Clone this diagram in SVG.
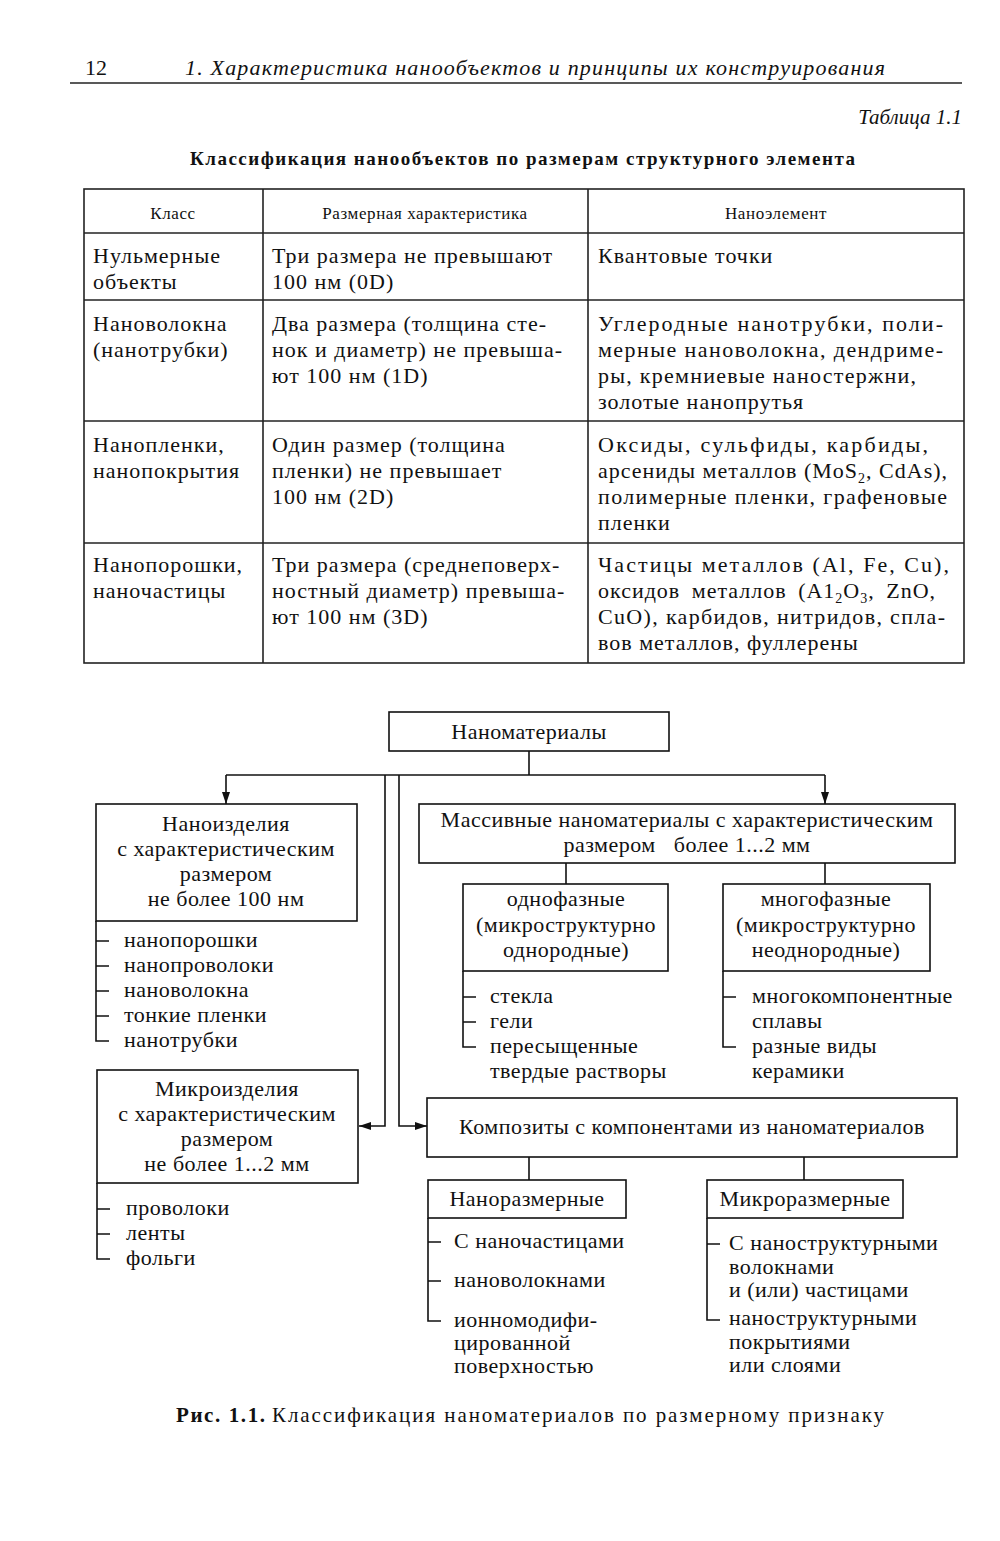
<svg xmlns="http://www.w3.org/2000/svg" width="1000" height="1541" viewBox="0 0 1000 1541">
<defs>
<style>
.t{font-family:"Liberation Serif","Times New Roman",serif;fill:#111}
.tb{font-family:"Liberation Serif","Times New Roman",serif;font-size:22px;letter-spacing:1px;fill:#111}
.th{font-family:"Liberation Serif","Times New Roman",serif;font-size:17px;letter-spacing:0.6px;fill:#111}
.d{font-family:"Liberation Serif","Times New Roman",serif;font-size:22px;letter-spacing:0.5px;fill:#111}
.c{text-anchor:middle}
.box{fill:#fff;stroke:#111;stroke-width:1.6}
.ln{fill:none;stroke:#111;stroke-width:1.6}
.tl{stroke:#222;stroke-width:1.6;fill:none}
</style>
<marker id="ah" markerWidth="12" markerHeight="8" refX="12" refY="4" orient="auto" markerUnits="userSpaceOnUse">
<path d="M0,0 L12,4 L0,8 Z" fill="#111"/>
</marker>
</defs>
<rect width="1000" height="1541" fill="#fff"/>

<g id="header">
<text class="t" x="85" y="75" font-size="22">12</text>
<text class="t" x="185" y="75" font-size="22" font-style="italic" textLength="700" lengthAdjust="spacing">1. Характеристика нанообъектов и принципы их конструирования</text>
<line x1="70" y1="83" x2="962" y2="83" stroke="#222" stroke-width="1.6"/>
<text class="t" x="962" y="124" font-size="21" font-style="italic" text-anchor="end">Таблица 1.1</text>
<text class="t" x="190" y="165" font-size="19" font-weight="bold" textLength="665" lengthAdjust="spacing">Классификация нанообъектов по размерам структурного элемента</text>
</g>

<g id="table">
<rect x="84" y="189" width="880" height="474" class="tl"/>
<line x1="263" y1="189" x2="263" y2="663" class="tl"/>
<line x1="588" y1="189" x2="588" y2="663" class="tl"/>
<line x1="84" y1="233" x2="964" y2="233" class="tl"/>
<line x1="84" y1="300" x2="964" y2="300" class="tl"/>
<line x1="84" y1="421" x2="964" y2="421" class="tl"/>
<line x1="84" y1="543" x2="964" y2="543" class="tl"/>
<text class="th c" x="173" y="219">Класс</text>
<text class="th c" x="425" y="219">Размерная характеристика</text>
<text class="th c" x="776" y="219">Наноэлемент</text>

<text class="tb" x="93" y="263">Нульмерные</text>
<text class="tb" x="93" y="289">объекты</text>
<text class="tb" x="272" y="263">Три размера не превышают</text>
<text class="tb" x="272" y="289">100 нм (0D)</text>
<text class="tb" x="598" y="263">Квантовые точки</text>

<text class="tb" x="93" y="331">Нановолокна</text>
<text class="tb" x="93" y="357">(нанотрубки)</text>
<text class="tb" x="272" y="331">Два размера (толщина сте-</text>
<text class="tb" x="272" y="357">нок и диаметр) не превыша-</text>
<text class="tb" x="272" y="383">ют 100 нм (1D)</text>
<text class="tb" x="598" y="331" textLength="346" lengthAdjust="spacing">Углеродные нанотрубки, поли-</text>
<text class="tb" x="598" y="357" textLength="346" lengthAdjust="spacing">мерные нановолокна, дендриме-</text>
<text class="tb" x="598" y="383" textLength="319" lengthAdjust="spacing">ры, кремниевые наностержни,</text>
<text class="tb" x="598" y="409">золотые нанопрутья</text>

<text class="tb" x="93" y="452">Нанопленки,</text>
<text class="tb" x="93" y="478">нанопокрытия</text>
<text class="tb" x="272" y="452">Один размер (толщина</text>
<text class="tb" x="272" y="478">пленки) не превышает</text>
<text class="tb" x="272" y="504">100 нм (2D)</text>
<text class="tb" x="598" y="452" textLength="331" lengthAdjust="spacing">Оксиды, сульфиды, карбиды,</text>
<text class="tb" x="598" y="478">арсениды металлов (MoS<tspan font-size="14" dy="5">2</tspan><tspan dy="-5">, CdAs),</tspan></text>
<text class="tb" x="598" y="504" textLength="350" lengthAdjust="spacing">полимерные пленки, графеновые</text>
<text class="tb" x="598" y="530">пленки</text>

<text class="tb" x="93" y="572">Нанопорошки,</text>
<text class="tb" x="93" y="598">наночастицы</text>
<text class="tb" x="272" y="572">Три размера (среднеповерх-</text>
<text class="tb" x="272" y="598">ностный диаметр) превыша-</text>
<text class="tb" x="272" y="624">ют 100 нм (3D)</text>
<text class="tb" x="598" y="572" textLength="352" lengthAdjust="spacing">Частицы металлов (Al, Fe, Cu),</text>
<text class="tb" x="598" y="598" word-spacing="5">оксидов металлов (A1<tspan font-size="14" dy="5">2</tspan><tspan dy="-5">O</tspan><tspan font-size="14" dy="5">3</tspan><tspan dy="-5">, ZnO,</tspan></text>
<text class="tb" x="598" y="624" textLength="348" lengthAdjust="spacing">CuO), карбидов, нитридов, спла-</text>
<text class="tb" x="598" y="650">вов металлов, фуллерены</text>
</g>

<g id="connectors">
<polyline class="ln" points="529,751 529,775"/>
<polyline class="ln" points="226,775 825,775"/>
<line class="ln" x1="226" y1="775" x2="226" y2="804" marker-end="url(#ah)"/>
<line class="ln" x1="825" y1="775" x2="825" y2="804" marker-end="url(#ah)"/>
<polyline class="ln" points="385,775 385,1126 359,1126" marker-end="url(#ah)"/>
<polyline class="ln" points="399,775 399,1126 427,1126" marker-end="url(#ah)"/>
<line class="ln" x1="566" y1="863" x2="566" y2="884"/>
<line class="ln" x1="825" y1="863" x2="825" y2="884"/>
<line class="ln" x1="529" y1="1157" x2="529" y2="1180"/>
<line class="ln" x1="804" y1="1157" x2="804" y2="1180"/>
<path class="ln" d="M96,921 V1041 H109 M96,941 H109 M96,966 H109 M96,991 H109 M96,1016 H109"/>
<path class="ln" d="M97,1183 V1259 H110 M97,1209 H110 M97,1234 H110"/>
<path class="ln" d="M463,971 V1047 H476 M463,997 H476 M463,1022 H476"/>
<path class="ln" d="M723,971 V1047 H736 M723,997 H736"/>
<path class="ln" d="M428,1218 V1321 H441 M428,1242 H441 M428,1281 H441"/>
<path class="ln" d="M707,1218 V1320 H720 M707,1244 H720"/>
</g>

<g id="n-nanomaterials">
<rect class="box" x="389" y="712" width="280" height="39"/>
<text class="d c" x="529" y="739">Наноматериалы</text>
</g>

<g id="n-nanoizdeliya">
<rect class="box" x="96" y="804" width="261" height="117"/>
<text class="d c" x="226" y="831">Наноизделия</text>
<text class="d c" x="226" y="856">с характеристическим</text>
<text class="d c" x="226" y="881">размером</text>
<text class="d c" x="226" y="906">не более 100 нм</text>
</g>
<g id="l-nanoizdeliya">
<text class="d" x="124" y="947">нанопорошки</text>
<text class="d" x="124" y="972">нанопроволоки</text>
<text class="d" x="124" y="997">нановолокна</text>
<text class="d" x="124" y="1022">тонкие пленки</text>
<text class="d" x="124" y="1047">нанотрубки</text>
</g>

<g id="n-mikroizdeliya">
<rect class="box" x="97" y="1070" width="261" height="113"/>
<text class="d c" x="227" y="1096">Микроизделия</text>
<text class="d c" x="227" y="1121">с характеристическим</text>
<text class="d c" x="227" y="1146">размером</text>
<text class="d c" x="227" y="1171">не более 1...2 мм</text>
</g>
<g id="l-mikroizdeliya">
<text class="d" x="126" y="1215">проволоки</text>
<text class="d" x="126" y="1240">ленты</text>
<text class="d" x="126" y="1265">фольги</text>
</g>

<g id="n-massive">
<rect class="box" x="419" y="804" width="536" height="59"/>
<text class="d c" x="687" y="827">Массивные наноматериалы с характеристическим</text>
<text class="d c" x="687" y="852" xml:space="preserve">размером   более 1...2 мм</text>
</g>

<g id="n-odnofaznye">
<rect class="box" x="463" y="884" width="205" height="87"/>
<text class="d c" x="566" y="906">однофазные</text>
<text class="d c" x="566" y="932">(микроструктурно</text>
<text class="d c" x="566" y="957">однородные)</text>
</g>
<g id="l-odnofaznye">
<text class="d" x="490" y="1003">стекла</text>
<text class="d" x="490" y="1028">гели</text>
<text class="d" x="490" y="1053">пересыщенные</text>
<text class="d" x="490" y="1078">твердые растворы</text>
</g>

<g id="n-mnogofaznye">
<rect class="box" x="723" y="884" width="207" height="87"/>
<text class="d c" x="826" y="906">многофазные</text>
<text class="d c" x="826" y="932">(микроструктурно</text>
<text class="d c" x="826" y="957">неоднородные)</text>
</g>
<g id="l-mnogofaznye">
<text class="d" x="752" y="1003">многокомпонентные</text>
<text class="d" x="752" y="1028">сплавы</text>
<text class="d" x="752" y="1053">разные виды</text>
<text class="d" x="752" y="1078">керамики</text>
</g>

<g id="n-kompozity">
<rect class="box" x="427" y="1098" width="530" height="59"/>
<text class="d c" x="692" y="1134">Композиты с компонентами из наноматериалов</text>
</g>

<g id="n-nanorazmernye">
<rect class="box" x="428" y="1180" width="198" height="38"/>
<text class="d c" x="527" y="1206">Наноразмерные</text>
</g>
<g id="l-nanorazmernye">
<text class="d" x="454" y="1248">С наночастицами</text>
<text class="d" x="454" y="1287">нановолокнами</text>
<text class="d" x="454" y="1327">ионномодифи-</text>
<text class="d" x="454" y="1350">цированной</text>
<text class="d" x="454" y="1373">поверхностью</text>
</g>

<g id="n-mikrorazmernye">
<rect class="box" x="707" y="1180" width="196" height="38"/>
<text class="d c" x="805" y="1206">Микроразмерные</text>
</g>
<g id="l-mikrorazmernye">
<text class="d" x="729" y="1250">С наноструктурными</text>
<text class="d" x="729" y="1274">волокнами</text>
<text class="d" x="729" y="1297">и (или) частицами</text>
<text class="d" x="729" y="1325">наноструктурными</text>
<text class="d" x="729" y="1349">покрытиями</text>
<text class="d" x="729" y="1372">или слоями</text>
</g>

<g id="caption">
<text class="t" x="176" y="1422" font-size="21" font-weight="bold" textLength="89" lengthAdjust="spacing">Рис. 1.1.</text>
<text class="t" x="272" y="1422" font-size="21" textLength="612" lengthAdjust="spacing">Классификация наноматериалов по размерному признаку</text>
</g>
</svg>
